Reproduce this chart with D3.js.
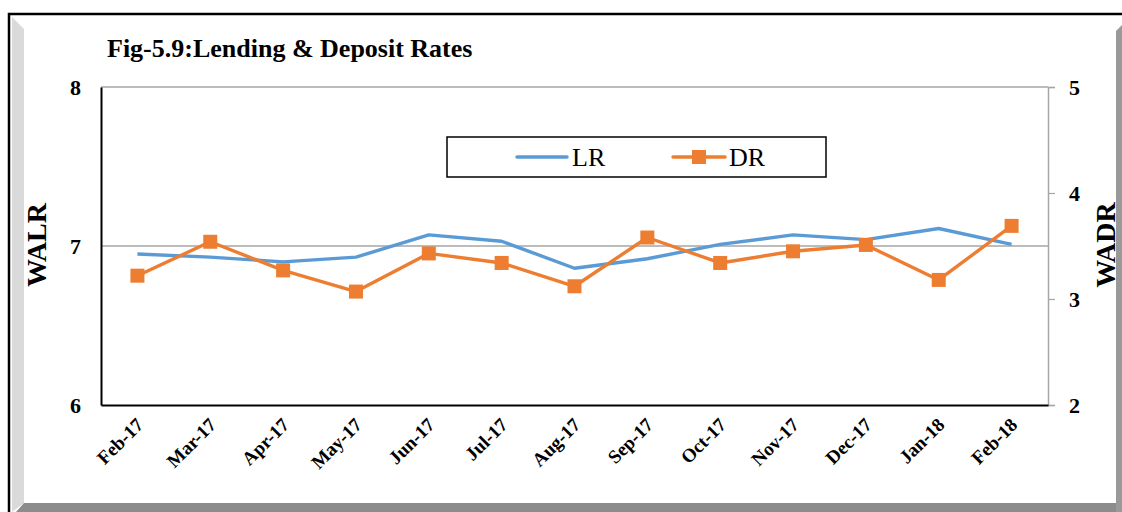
<!DOCTYPE html>
<html><head><meta charset="utf-8">
<script src="https://cdn.jsdelivr.net/npm/d3@7"></script>
<style>html,body{margin:0;padding:0;background:#fff;}svg{display:block;}</style>
</head><body>
<svg id="c" width="1122" height="512"></svg>
<script>
const categories = ["Feb-17","Mar-17","Apr-17","May-17","Jun-17","Jul-17","Aug-17","Sep-17","Oct-17","Nov-17","Dec-17","Jan-18","Feb-18"];
const lrValues = [6.95,6.93,6.90,6.93,7.07,7.03,6.86,6.92,7.01,7.07,7.04,7.11,7.01];
const drValues = [3.22,3.54,3.27,3.07,3.43,3.34,3.12,3.58,3.34,3.45,3.51,3.18,3.69];
const leftTicks = [6,7,8];
const rightTicks = [2,3,4,5];
const titleText = "Fig-5.9:Lending & Deposit Rates";

const svg = d3.select("#c");
const serif = "'Liberation Serif','Times New Roman',serif";

// frame
svg.append("rect").attr("x",0).attr("y",0).attr("width",1122).attr("height",512).attr("fill","#fff");
svg.append("path").attr("d","M12,17 L24,29 L24,503 L12,512 Z").attr("fill","#dadada");
svg.append("path").attr("d","M16,512 L24,503 L1116,503 L1116,512 Z").attr("fill","#8c8c8c");
svg.append("path").attr("d","M1116,31 L1122,25 L1122,512 L1116,512 Z").attr("fill","#999");
svg.append("path").attr("d","M9,512 L9,14 L1122,14").attr("fill","none").attr("stroke","#000").attr("stroke-width",2.5);

const L = 101, R = 1048, T = 87, B = 405;
const x = d3.scaleBand().domain(categories).range([L,R]);
const yL = d3.scaleLinear().domain([6,8]).range([B,T]);
const yR = d3.scaleLinear().domain([2,5]).range([B,T]);

// gridline at 7 and top border
svg.append("g").selectAll("line").data(leftTicks.filter(d=>d>6)).join("line")
  .attr("x1",L).attr("x2",R).attr("y1",d=>yL(d)).attr("y2",d=>yL(d))
  .attr("stroke","#a6a6a6").attr("stroke-width",1.5);

// right axis
const ra = svg.append("g").attr("transform",`translate(${R},0)`)
  .call(d3.axisRight(yR).tickValues(rightTicks).tickSize(7).tickFormat(d3.format("d")));
ra.select(".domain").attr("stroke","#a6a6a6").attr("stroke-width",1.5);
ra.selectAll(".tick line").attr("stroke","#a6a6a6").attr("stroke-width",1.2);
ra.selectAll(".tick text").attr("x",21).attr("font-family",serif).attr("font-weight","bold").attr("font-size",22).attr("fill","#000");

// left axis
const la = svg.append("g").attr("transform",`translate(${L},0)`)
  .call(d3.axisLeft(yL).tickValues(leftTicks).tickSize(0).tickFormat(d3.format("d")));
la.select(".domain").attr("stroke","#000").attr("stroke-width",2);
la.selectAll(".tick text").attr("x",-20).attr("font-family",serif).attr("font-weight","bold").attr("font-size",22).attr("fill","#000");

// bottom axis
const ba = svg.append("g").attr("transform",`translate(0,${B})`)
  .call(d3.axisBottom(x).tickSize(0));
ba.select(".domain").attr("stroke","#000").attr("stroke-width",2);
ba.selectAll(".tick text")
  .attr("font-family",serif).attr("font-weight","bold").attr("font-size",19).attr("fill","#000")
  .attr("text-anchor","end").attr("dy",0).attr("y",0)
  .attr("transform","translate(7,21) rotate(-45)");

// lines
const lineL = d3.line().x(d=>x(d.c)+x.bandwidth()/2).y(d=>yL(d.v));
const lineR = d3.line().x(d=>x(d.c)+x.bandwidth()/2).y(d=>yR(d.v));
const lrData = categories.map((c,i)=>({c,v:lrValues[i]}));
const drData = categories.map((c,i)=>({c,v:drValues[i]}));
svg.append("path").datum(lrData).attr("d",lineL).attr("fill","none").attr("stroke","#5b9bd5").attr("stroke-width",3.4).attr("stroke-linejoin","round");
svg.append("path").datum(drData).attr("d",lineR).attr("fill","none").attr("stroke","#ed7d31").attr("stroke-width",3.4).attr("stroke-linejoin","round");
svg.append("g").selectAll("rect").data(drData).join("rect")
  .attr("x",d=>x(d.c)+x.bandwidth()/2-7).attr("y",d=>yR(d.v)-7)
  .attr("width",14).attr("height",14).attr("fill","#ed7d31");

// title
svg.append("text").attr("x",107).attr("y",57).text(titleText)
  .attr("font-family",serif).attr("font-weight","bold").attr("font-size",26).attr("fill","#000");

// axis titles
svg.append("text").attr("transform","translate(46,245) rotate(-90)").attr("text-anchor","middle")
  .text("WALR").attr("font-family",serif).attr("font-weight","bold").attr("font-size",28);
svg.append("text").attr("transform","translate(1115,245) rotate(-90)").attr("text-anchor","middle")
  .text("WADR").attr("font-family",serif).attr("font-weight","bold").attr("font-size",28);

// legend
const lg = svg.append("g");
lg.append("rect").attr("x",447).attr("y",137).attr("width",379).attr("height",40).attr("fill","#fff").attr("stroke","#000").attr("stroke-width",1.5);
lg.append("line").attr("x1",517).attr("x2",567).attr("y1",157).attr("y2",157).attr("stroke","#5b9bd5").attr("stroke-width",3.4).attr("stroke-linecap","round");
lg.append("text").attr("x",572).attr("y",166).text("LR").attr("font-family",serif).attr("font-size",26);
lg.append("line").attr("x1",673).attr("x2",725).attr("y1",157).attr("y2",157).attr("stroke","#ed7d31").attr("stroke-width",3.4).attr("stroke-linecap","round");
lg.append("rect").attr("x",692).attr("y",150).attr("width",14).attr("height",14).attr("fill","#ed7d31");
lg.append("text").attr("x",729).attr("y",166).text("DR").attr("font-family",serif).attr("font-size",26);
</script>
</body></html>
